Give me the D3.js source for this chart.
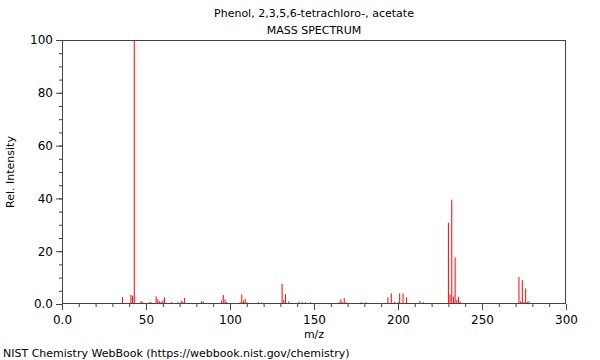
<!DOCTYPE html>
<html><head><meta charset="utf-8">
<script src="https://cdn.jsdelivr.net/npm/d3@7"></script>
<style>body{margin:0;background:#fff}svg{display:block}text{font-family:"DejaVu Sans",sans-serif;fill:#000}</style>
</head><body><svg id="c" width="600" height="360"></svg>
<script>
const mz = [36,41,42,43,47,48,52,53,56,57,58,59,60,61,65,69,71,72,73,83,84,89,95,96,97,98,106,107,108,109,110,117,119,124,131,132,133,135,141,143,145,148,165,166,167,168,169,170,178,181,187,194,196,198,200,201,203,205,211,213,215,230,231,232,233,234,235,236,237,272,273,274,275,276,277,278];
const intensity = [2.6,3.4,3.1,100,1.1,0.8,0.7,0.8,2.9,1.8,1.0,0.8,1.3,2.5,0.8,0.7,1.2,0.9,2.3,1.0,1.0,0.4,1.3,3.4,1.7,0.8,0.7,3.6,1.2,1.9,0.7,0.7,0.6,0.3,7.6,1.5,3.7,1.0,0.9,0.7,0.7,0.7,0.8,1.8,0.7,2.2,0.7,0.3,0.7,0.7,0.5,2.5,4.0,0.8,0.7,4.0,4.0,2.5,0.4,1.1,0.7,30.8,3.6,39.5,2.8,17.7,1.5,2.7,1.0,10.2,1.0,9.0,0.8,5.9,0.8,1.0];
const xTicks = [0,50,100,150,200,250,300];
const yTicks = [0,20,40,60,80,100];
const titleText = "Phenol, 2,3,5,6-tetrachloro-, acetate";
const subtitleText = "MASS SPECTRUM";
const xLabel = "m/z", yLabel = "Rel. Intensity";
const footer = "NIST Chemistry WebBook (https://webbook.nist.gov/chemistry)";

const svg = d3.select("#c");
const m = {l:62, r:34, t:40, b:56};
const W = 600, H = 360;
const x = d3.scaleLinear().domain([0,300]).range([m.l, W-m.r]);
const y = d3.scaleLinear().domain([0,100]).range([H-m.b, m.t]);
const fmt = v => v === 0 ? "0.0" : String(v);

// bars
svg.append("g").selectAll("line").data(mz).join("line")
  .attr("x1", (d)=>x(d)).attr("x2", (d)=>x(d))
  .attr("y1", y(0)).attr("y2", (d,i)=>y(intensity[i]))
  .attr("stroke", "#ff0000").attr("stroke-width", 1);

// frame
svg.append("rect").attr("x", m.l+0.5).attr("y", m.t+0.5)
  .attr("width", W-m.l-m.r-1).attr("height", H-m.t-m.b-1)
  .attr("fill", "none").attr("stroke", "#444");

// x axis
const gx = svg.append("g").attr("transform", `translate(0,${y(0)})`);
gx.call(d3.axisBottom(x).tickValues(d3.range(0,301,10)).tickSize(3).tickFormat(""))
  .call(g=>g.select(".domain").remove()).selectAll("line").attr("stroke","#444");
gx.append("g").call(d3.axisBottom(x).tickValues(xTicks).tickSize(6).tickFormat(fmt))
  .call(g=>g.select(".domain").remove())
  .call(g=>g.selectAll("line").attr("stroke","#444"))
  .call(g=>g.selectAll("text").attr("font-size",12).attr("font-family","DejaVu Sans").attr("fill","#000").attr("dy","0.9em"));

// y axis
const gy = svg.append("g").attr("transform", `translate(${m.l},0)`);
gy.call(d3.axisLeft(y).tickValues(d3.range(0,101,5)).tickSize(3).tickFormat(""))
  .call(g=>g.select(".domain").remove()).selectAll("line").attr("stroke","#444");
gy.append("g").call(d3.axisLeft(y).tickValues(yTicks).tickSize(6).tickFormat(fmt))
  .call(g=>g.select(".domain").remove())
  .call(g=>g.selectAll("line").attr("stroke","#444"))
  .call(g=>g.selectAll("text").attr("font-size",12).attr("font-family","DejaVu Sans").attr("fill","#000"));

const cx = (m.l + W - m.r)/2;
svg.append("text").attr("x", cx).attr("y", 17).attr("text-anchor","middle").attr("font-size",11).text(titleText);
svg.append("text").attr("x", cx).attr("y", 34).attr("text-anchor","middle").attr("font-size",11).text(subtitleText);
svg.append("text").attr("x", cx).attr("y", 338).attr("text-anchor","middle").attr("font-size",11).text(xLabel);
svg.append("text").attr("transform", `translate(14,${(m.t+H-m.b)/2}) rotate(-90)`).attr("text-anchor","middle").attr("font-size",11).text(yLabel);
svg.append("text").attr("x", 3).attr("y", 357).attr("font-size",11).text(footer);
</script></body></html>
